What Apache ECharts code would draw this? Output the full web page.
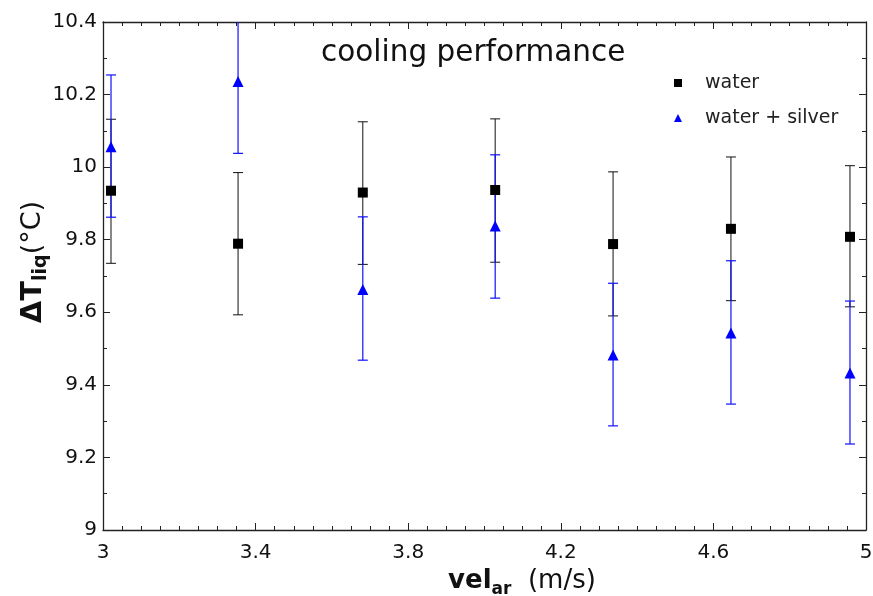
<!DOCTYPE html>
<html>
<head>
<meta charset="utf-8">
<script src="https://cdn.jsdelivr.net/npm/echarts@6/dist/echarts.min.js"></script>
<style>
  html, body { margin: 0; padding: 0; background: #fff; }
  #chart { width: 873px; height: 596px; }
</style>
</head>
<body>
<div id="chart"></div>
<script>
  // 速度 (m/s)
  var velocity = [3.021, 3.354, 3.681, 4.028, 4.337, 4.646, 4.958]

  // water
  var waterMean = [9.935, 9.789, 9.930, 9.937, 9.788, 9.830, 9.808]
  var waterLow  = [9.735, 9.593, 9.732, 9.738, 9.590, 9.632, 9.615]
  var waterHigh = [10.132, 9.985, 10.125, 10.133, 9.987, 10.028, 10.004]

  // water + silver
  var silverMean = [10.056, 10.236, 9.663, 9.838, 9.482, 9.543, 9.433]
  var silverLow  = [9.862, 10.038, 9.468, 9.639, 9.287, 9.347, 9.237]
  var silverHigh = [10.254, 10.435, 9.863, 10.034, 9.680, 9.742, 9.631]

  var xTicks = [3, 3.4, 3.8, 4.2, 4.6, 5]
  var yTicks = [9, 9.2, 9.4, 9.6, 9.8, 10, 10.2, 10.4]

  var FONT = 'DejaVu Sans'

  function pairs(xs, ys) {
    return xs.map(function (x, i) { return [x, ys[i]] })
  }
  function errRows(xs, lo, hi) {
    return xs.map(function (x, i) { return [x, lo[i], hi[i]] })
  }
  // 误差棒
  function errorBar(color, lw) {
    return function (params, api) {
      var x = api.value(0)
      var top = api.coord([x, api.value(2)])
      var bot = api.coord([x, api.value(1)])
      var cx = top[0]
      var w = 5
      var st = { stroke: color, lineWidth: lw }
      return {
        type: 'group',
        children: [
          { type: 'line', shape: { x1: cx, y1: top[1], x2: cx, y2: bot[1] }, style: st },
          { type: 'line', shape: { x1: cx - w, y1: top[1], x2: cx + w, y2: top[1] }, style: st },
          { type: 'line', shape: { x1: cx - w, y1: bot[1], x2: cx + w, y2: bot[1] }, style: st }
        ]
      }
    }
  }

  var axisLine = { show: true, lineStyle: { color: '#222', width: 1.3 } }

  function xAxisCfg(pos, showLabel) {
    return {
      type: 'value',
      position: pos,
      min: xTicks[0],
      max: xTicks[xTicks.length - 1],
      interval: 0.4,
      axisLine: axisLine,
      axisTick: { show: true, inside: true, length: 7, lineStyle: { color: '#222' } },
      minorTick: { show: true, splitNumber: 8, length: 4, lineStyle: { color: '#222' } },
      splitLine: { show: false },
      axisLabel: {
        show: showLabel, margin: 13, fontSize: 20, fontFamily: FONT, color: '#111',
        formatter: function (v) { return String(+v.toFixed(1)) }
      }
    }
  }
  function yAxisCfg(pos, showLabel) {
    return {
      type: 'value',
      position: pos,
      min: yTicks[0],
      max: yTicks[yTicks.length - 1],
      interval: 0.2,
      axisLine: axisLine,
      axisTick: { show: true, inside: true, length: 7, lineStyle: { color: '#222' } },
      minorTick: { show: true, splitNumber: 2, length: 4, lineStyle: { color: '#222' } },
      splitLine: { show: false },
      axisLabel: {
        show: showLabel, margin: 6, fontSize: 20, fontFamily: FONT, color: '#111',
        formatter: function (v) { return String(+v.toFixed(1)) }
      }
    }
  }

  var xMain = xAxisCfg('bottom', true)
  xMain.name = '{b|vel}{s|ar}{n|  (m/s)}'
  xMain.nameLocation = 'middle'
  xMain.nameGap = 32
  xMain.nameTextStyle = {
    padding: [0, 0, 0, 75],
    rich: {
      b: { fontFamily: FONT, fontWeight: 'bold', fontSize: 26, color: '#111', lineHeight: 34, verticalAlign: 'middle' },
      s: { fontFamily: FONT, fontWeight: 'bold', fontSize: 17, color: '#111', lineHeight: 17, verticalAlign: 'bottom' },
      n: { fontFamily: FONT, fontSize: 26, color: '#111', lineHeight: 34, verticalAlign: 'middle' }
    }
  }

  var yMain = yAxisCfg('left', true)
  yMain.name = '{b|ΔT}{s|liq}{n|(°C)}'
  yMain.nameLocation = 'middle'
  yMain.nameRotate = 90
  yMain.nameGap = 52
  yMain.nameMoveOverlap = false
  yMain.nameTextStyle = {
    padding: [0, 0, 0, 28],
    rich: {
      b: { fontFamily: FONT, fontWeight: 'bold', fontSize: 29, color: '#111', lineHeight: 36, verticalAlign: 'middle' },
      s: { fontFamily: FONT, fontWeight: 'bold', fontSize: 19, color: '#111', lineHeight: 19, verticalAlign: 'bottom' },
      n: { fontFamily: FONT, fontSize: 27, color: '#111', lineHeight: 36, verticalAlign: 'middle' }
    }
  }

  var myChart = echarts.init(document.getElementById('chart'))
  var option = {
    backgroundColor: '#fff',
    animation: false,
    title: {
      text: 'cooling performance',
      left: 316,
      top: 33,
      textStyle: { fontFamily: FONT, fontSize: 29.5, fontWeight: 'normal', color: '#111' }
    },
    legend: {
      orient: 'vertical',
      left: 669,
      top: 68,
      itemWidth: 8,
      itemHeight: 8,
      itemGap: 15,
      data: ['water', 'water + silver'],
      textStyle: { fontFamily: FONT, fontSize: 19, color: '#222', lineHeight: 20, padding: [0, 0, 0, 18] }
    },
    grid: { left: 103, right: 7, top: 22, bottom: 66, outerBoundsMode: 'none' },
    xAxis: [xMain, xAxisCfg('top', false)],
    yAxis: [yMain, yAxisCfg('right', false)],
    series: [
      {
        name: 'water err',
        type: 'custom',
        clip: true,
        renderItem: errorBar('#111', 1),
        data: errRows(velocity, waterLow, waterHigh),
        z: 2
      },
      {
        name: 'silver err',
        type: 'custom',
        clip: true,
        renderItem: errorBar('#1010ff', 1.2),
        data: errRows(velocity, silverLow, silverHigh),
        z: 2
      },
      {
        name: 'water',
        type: 'scatter',
        symbol: 'rect',
        symbolSize: 10,
        itemStyle: { color: '#000', opacity: 1 },
        data: pairs(velocity, waterMean),
        z: 3
      },
      {
        name: 'water + silver',
        type: 'scatter',
        symbol: 'triangle',
        symbolSize: 11,
        itemStyle: { color: '#0000ff', opacity: 1 },
        data: pairs(velocity, silverMean),
        z: 3
      }
    ]
  }

  myChart.setOption(option)
</script>
</body>
</html>
